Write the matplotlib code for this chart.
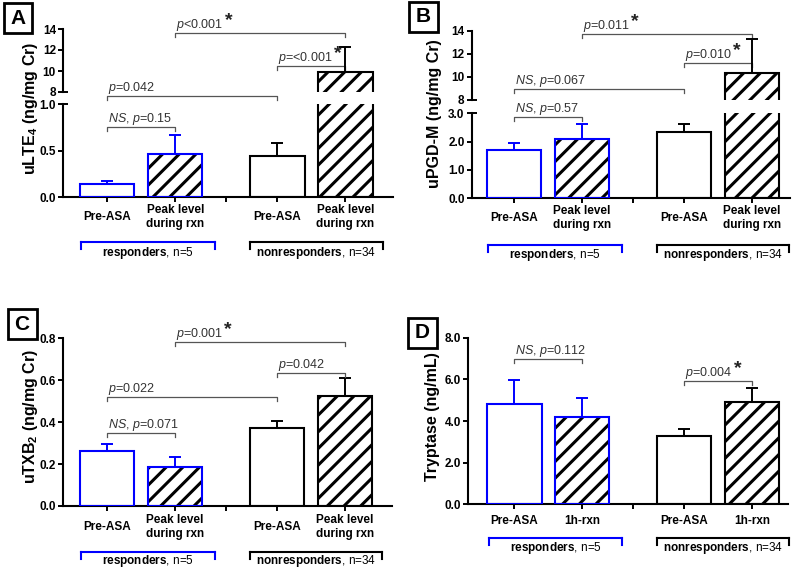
import numpy as np
import matplotlib
matplotlib.use('Agg')
import matplotlib.pyplot as plt
from matplotlib.transforms import offset_copy
from matplotlib.patches import Rectangle

plt.rcParams['font.family'] = ['Liberation Sans', 'DejaVu Sans']
plt.rcParams['mathtext.fontset'] = 'custom'
plt.rcParams['mathtext.rm'] = 'Liberation Sans'
plt.rcParams['mathtext.it'] = 'Liberation Sans:italic'
plt.rcParams['mathtext.bf'] = 'Liberation Sans:bold'
plt.rcParams['hatch.linewidth'] = 2.2

# ---- data ----
x_pos = [0, 1, 2.5, 3.5]
bar_colors = ['#0000ff', '#0000ff', 'black', 'black']
bar_hatches = ['', '//', '', '//']
labels_rxn = ['Pre-ASA', 'Peak level\nduring rxn', 'Pre-ASA', 'Peak level\nduring rxn']
labels_1h = ['Pre-ASA', '1h-rxn', 'Pre-ASA', '1h-rxn']
groups = ['responders', 'nonresponders']
group_n = ['n=5', 'n=34']
group_colors = ['#0000ff', 'black']

lte4_mean = [0.14, 0.46, 0.44, 9.9]
lte4_err = [0.035, 0.21, 0.14, 2.4]
pgdm_mean = [1.72, 2.1, 2.34, 10.3]
pgdm_err = [0.22, 0.52, 0.28, 3.0]
txb2_mean = [0.26, 0.185, 0.374, 0.526]
txb2_err = [0.036, 0.05, 0.03, 0.083]
tryp_mean = [4.83, 4.2, 3.28, 4.9]
tryp_err = [1.12, 0.92, 0.35, 0.67]

# comparisons: (bar i, bar j, label, significant)
comp_a = [(1, 3, 'p<0.001', True), (2, 3, 'p=<0.001', True),
          (0, 2, 'p=0.042', False), (0, 1, 'NS, p=0.15', False)]
comp_b = [(1, 3, 'p=0.011', True), (2, 3, 'p=0.010', True),
          (0, 2, 'NS, p=0.067', False), (0, 1, 'NS, p=0.57', False)]
comp_c = [(1, 3, 'p=0.001', True), (2, 3, 'p=0.042', False),
          (0, 2, 'p=0.022', False), (0, 1, 'NS, p=0.071', False)]
comp_d = [(0, 1, 'NS, p=0.112', False), (2, 3, 'p=0.004', True)]

W, H = 800, 571
fig = plt.figure(figsize=(W / 100, H / 100), dpi=100)


def px_ax(left, top, right, bottom):
    return fig.add_axes([left / W, 1 - bottom / H, (right - left) / W, (bottom - top) / H])


def style(ax):
    ax.patch.set_visible(False)
    for s in ['top', 'right']:
        ax.spines[s].set_visible(False)
    for s in ['left', 'bottom']:
        ax.spines[s].set_linewidth(1.5)
    ax.tick_params(direction='out', length=3.6, width=1.4, pad=1.5, labelsize=8.5)


def draw_bars(ax, mean, err):
    for x, m, e, c, h in zip(x_pos, mean, err, bar_colors, bar_hatches):
        ax.errorbar(x, m, yerr=[[0], [e]], fmt='none', ecolor=c, elinewidth=1.4,
                    capsize=4.5, capthick=1.4, zorder=1)
        ax.bar(x, m, 0.8, color='white', edgecolor='black', hatch=h, linewidth=0, zorder=2)
        ax.bar(x, m, 0.8, fill=False, edgecolor=c, linewidth=1.5, zorder=3)


def x_axis(ax, labels, xlim, lab_off, brk_off, txt_off):
    ax.set_xlim(*xlim)
    ax.set_xticks(x_pos[:2] + [1.75] + x_pos[2:], [''] * 5)
    tr = offset_copy(ax.get_xaxis_transform(), y=-lab_off, units='dots')
    for x, lab in zip(x_pos, labels):
        ax.text(x, 0, lab, transform=tr, ha='center', va='center', fontsize=8.5,
                fontweight='bold', linespacing=1.2)
    spans = [(-0.38, 1.59), (2.1, 4.05)]
    p0 = offset_copy(ax.get_xaxis_transform(), y=-brk_off, units='dots')
    p1 = offset_copy(ax.get_xaxis_transform(), y=-brk_off - 7, units='dots')
    trt = offset_copy(ax.get_xaxis_transform(), y=-txt_off, units='dots')
    for (x1, x2), g, n, c in zip(spans, groups, group_n, group_colors):
        ax.plot([x1, x2], [0, 0], color=c, lw=1.5, transform=p0, clip_on=False)
        ax.text((x1 + x2) / 2, 0, r'$\mathbf{' + g + '}$, ' + n, transform=trt,
                ha='center', va='center', fontsize=8.5, clip_on=False)
        # bracket end ticks, pixel length
        for xx in (x1, x2):
            a = p0.transform((xx, 0))
            b = p1.transform((xx, 0))
            fig.add_artist(plt.Line2D([a[0] / W, b[0] / W], [a[1] / H, b[1] / H],
                                      color=c, lw=1.5))


stars = []


def brackets(ax, comps, ys):
    h_px = ax.get_position().height * H
    y0, y1 = ax.get_ylim()
    tick = 4 * (y1 - y0) / h_px
    trt = offset_copy(ax.transData, x=1, y=5, units='dots')
    for (i, j, lab, sig), y in zip(comps, ys):
        x1, x2 = x_pos[i], x_pos[j]
        ax.plot([x1, x1, x2, x2], [y - tick, y, y, y - tick], color='#555555', lw=0.9,
                clip_on=False, zorder=4)
        if lab.startswith('NS'):
            s = r'$\mathit{NS}$, $\mathit{p}$' + lab[len('NS, p'):]
        else:
            s = r'$\mathit{p}$' + lab[1:]
        t = ax.text(x1, y, s, transform=trt, ha='left', va='baseline', fontsize=9,
                    color='#333333', clip_on=False)
        if sig:
            stars.append(t)


def ylab(xc, yc, s):
    fig.text(xc / W, 1 - yc / H, s, rotation=90, ha='center', va='center',
             fontsize=11.5, fontweight='bold')


def letter(xc, yc, s):
    fig.add_artist(Rectangle(((xc - 14.5) / W, 1 - (yc + 15) / H), 29 / W, 30 / H,
                             transform=fig.transFigure, fill=False, lw=2, ec='black'))
    fig.text(xc / W, 1 - yc / H, s, ha='center', va='center', fontsize=15,
             fontweight='bold')


def break_marks(ax, at_top):
    w = ax.get_position().width * W
    y = 1 if at_top else 0
    ax.plot([0, 5 / w], [y, y], color='black', lw=1.4, transform=ax.transAxes,
            clip_on=False, solid_capstyle='butt')


# ---------- panel A ----------
a_lo = px_ax(63, 104, 393, 197)
a_hi = px_ax(63, 29, 393, 92)
for ax in (a_lo, a_hi):
    style(ax)
    draw_bars(ax, lte4_mean, lte4_err)
a_lo.set_ylim(0, 1.0)
a_lo.set_yticks([0, 0.5, 1.0], ['0.0', '0.5', '1.0'], fontweight='bold')
a_hi.set_ylim(8, 14)
a_hi.set_yticks([8, 10, 12, 14], ['8', '10', '12', '14'], fontweight='bold')
a_hi.spines['bottom'].set_visible(False)
a_hi.set_xlim(-0.65, 4.2)
a_hi.set_xticks([])
x_axis(a_lo, labels_rxn, (-0.65, 4.2), 20, 45, 56)
break_marks(a_lo, True)
break_marks(a_hi, False)
brackets(a_lo, comp_a, [1.763, 1.41, 1.09, 0.756])
ylab(30, 108, r'uLTE$_\mathbf{4}$ (ng/mg Cr)')
letter(18, 18, 'A')

# ---------- panel B ----------
b_lo = px_ax(471.7, 113.3, 790, 198.3)
b_hi = px_ax(471.7, 30.7, 790, 100)
for ax in (b_lo, b_hi):
    style(ax)
    draw_bars(ax, pgdm_mean, pgdm_err)
b_lo.set_ylim(0, 3.0)
b_lo.set_yticks([0, 1, 2, 3], ['0.0', '1.0', '2.0', '3.0'], fontweight='bold')
b_hi.set_ylim(8, 14)
b_hi.set_yticks([8, 10, 12, 14], ['8', '10', '12', '14'], fontweight='bold')
b_hi.spines['bottom'].set_visible(False)
b_hi.set_xlim(-0.62, 4.06)
b_hi.set_xticks([])
x_axis(b_lo, labels_rxn, (-0.62, 4.06), 20, 47, 57)
break_marks(b_lo, True)
break_marks(b_hi, False)
brackets(b_lo, comp_b, [5.79, 4.77, 3.85, 2.88])
ylab(435, 114, 'uPGD-M (ng/mg Cr)')
letter(423, 17, 'B')

# ---------- panel C ----------
c_ax = px_ax(63.3, 338.3, 392, 506)
style(c_ax)
draw_bars(c_ax, txb2_mean, txb2_err)
c_ax.set_ylim(0, 0.8)
c_ax.set_yticks([0, 0.2, 0.4, 0.6, 0.8], ['0.0', '0.2', '0.4', '0.6', '0.8'], fontweight='bold')
x_axis(c_ax, labels_rxn, (-0.64, 4.19), 21, 46, 55)
brackets(c_ax, comp_c, [0.781, 0.636, 0.519, 0.347])
ylab(30, 416, r'uTXB$_\mathbf{2}$ (ng/mg Cr)')
letter(22, 324, 'C')

# ---------- panel D ----------
d_ax = px_ax(468.3, 337.7, 788, 504.3)
style(d_ax)
draw_bars(d_ax, tryp_mean, tryp_err)
d_ax.set_ylim(0, 8)
d_ax.set_yticks([0, 2, 4, 6, 8], ['0.0', '2.0', '4.0', '6.0', '8.0'], fontweight='bold')
x_axis(d_ax, labels_1h, (-0.68, 4.03), 17, 34, 44)
brackets(d_ax, comp_d, [6.96, 5.93])
ylab(433, 417, 'Tryptase (ng/mL)')
letter(422, 333, 'D')

# stars after the significant p-values
fig.canvas.draw()
r = fig.canvas.get_renderer()
for t in stars:
    bb = t.get_window_extent(r)
    bx, by = t.get_transform().transform(t.get_position())
    fig.text((bb.x1 + 1) / W, (by + 3) / H, '*', ha='left', va='baseline',
             fontsize=14, fontweight='bold', color='#222222')

fig.savefig('out.png', dpi=100)
